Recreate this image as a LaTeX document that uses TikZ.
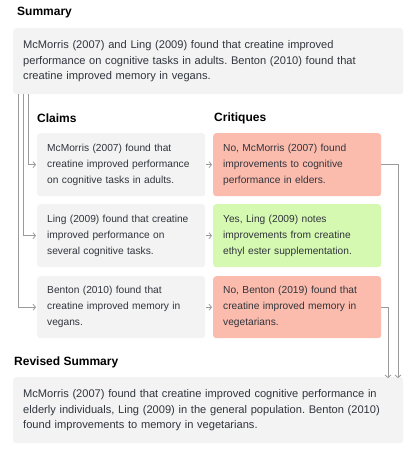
\documentclass[tikz,border=0pt]{standalone}
\usepackage{fontspec}
\setmainfont{Liberation Sans}
\usetikzlibrary{arrows.meta,calc}
\definecolor{boxgray}{HTML}{F3F3F3}
\definecolor{boxred}{HTML}{FCBCAD}
\definecolor{boxgreen}{HTML}{D6F9B2}
\definecolor{linegray}{HTML}{9A9A9A}
\definecolor{bodytext}{HTML}{30343C}
\frenchspacing
\begin{document}
\begin{tikzpicture}[x=1pt,y=-1pt,
  title/.style={anchor=west,inner sep=0pt,font=\fontsize{12}{14}\selectfont\bfseries,text=black},
  bigbox/.style={anchor=north west,fill=boxgray,rounded corners=3pt,inner xsep=10pt,inner ysep=0pt,
     align=left,text width=370pt,minimum height=66pt,font=\fontsize{11.1}{15.5}\selectfont,text=bodytext},
  card/.style={anchor=north west,rounded corners=3pt,inner xsep=10pt,inner ysep=0pt,
     align=left,text width=148pt,minimum height=63pt,font=\fontsize{10.2}{16}\selectfont,text=bodytext},
  arr/.style={draw=linegray,line width=0.8pt,-{Straight Barb[length=2.5pt,width=6pt]}},
]
\useasboundingbox (0,0) rectangle (415,453);

\node[title] (tsum) at (17,13) {Summary};
\node[bigbox] (sum) at (13,28) {McMorris (2007) and Ling (2009) found that creatine improved\\performance on cognitive tasks in adults. Benton (2010) found that\\creatine improved memory in vegans.};

\node[title] (tcl) at (37,118) {Claims};
\node[title] (tcr) at (214,118) {Critiques};

\node[card,fill=boxgray] (c1) at (37,133) {McMorris (2007) found that\\creatine improved performance\\on cognitive tasks in adults.};
\node[card,fill=boxgray] (c2) at (37,204) {Ling (2009) found that creatine\\improved performance on\\several cognitive tasks.};
\node[card,fill=boxgray,minimum height=62pt] (c3) at (37,276) {Benton (2010) found that\\creatine improved memory in\\vegans.};

\node[card,fill=boxred] (k1) at (213,133) {No, McMorris (2007) found\\improvements to cognitive\\performance in elders.};
\node[card,fill=boxgreen] (k2) at (213,204) {Yes, Ling (2009) notes\\improvements from creatine\\ethyl ester supplementation.};
\node[card,fill=boxred,minimum height=62pt] (k3) at (213,276) {No, Benton (2019) found that\\creatine improved memory in\\vegetarians.};

\node[title] (trev) at (14,362) {Revised Summary};
\node[bigbox] (rev) at (13,377) {McMorris (2007) found that creatine improved cognitive performance in\\elderly individuals, Ling (2009) in the general population. Benton (2010)\\found improvements to memory in vegetarians.};

\coordinate (l1) at (28,0);
\coordinate (l2) at (23,0);
\coordinate (l3) at (18,0);
\coordinate (r1) at (398,0);
\coordinate (r3) at (388,0);

\draw[arr] (sum.south -| l1) |- ([xshift=-1pt]c1.west);
\draw[arr] (sum.south -| l2) |- ([xshift=-1pt]c2.west);
\draw[arr] (sum.south -| l3) |- ([xshift=-1pt]c3.west);

\draw[arr] ([xshift=1pt]c1.east) -- ([xshift=-1pt]k1.west);
\draw[arr] ([xshift=1pt]c2.east) -- ([xshift=-1pt]k2.west);
\draw[arr] ([xshift=1pt]c3.east) -- ([xshift=-1pt]k3.west);

\draw[arr] (k1.east) -| ([yshift=-1pt]rev.north -| r1);
\draw[arr] (k3.east) -| ([yshift=-1pt]rev.north -| r3);
\end{tikzpicture}
\end{document}
